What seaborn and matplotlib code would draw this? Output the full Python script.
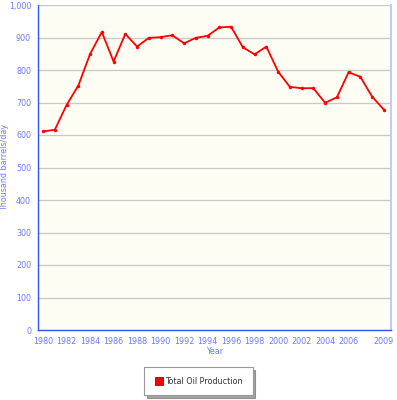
import matplotlib
matplotlib.use("Agg")
import matplotlib.pyplot as plt
import seaborn as sns
import pandas as pd
from matplotlib.lines import Line2D

years = list(range(1980, 2010))
production = [611, 616, 692, 752, 849, 917, 826, 911, 872, 899,
              901, 907, 882, 899, 905, 931, 933, 870, 848, 872,
              795, 748, 744, 744, 699, 716, 793, 779, 718, 678]
tick_years = [1980, 1982, 1984, 1986, 1988, 1990, 1992, 1994, 1996, 1998,
              2000, 2002, 2004, 2006, 2009]
y_ticks = [0, 100, 200, 300, 400, 500, 600, 700, 800, 900, 1000]

df = pd.DataFrame({"Year": years, "Production": production})

sns.set_style("white")
plt.rcParams["font.family"] = ["DejaVu Sans"]

label_blue = "#6b7bff"
fig = plt.figure(figsize=(3.97, 4.0), dpi=100)
ax = fig.add_axes([0.0957, 0.175, 0.889, 0.8125])
ax.set_facecolor("#fdfdf4")

sns.lineplot(data=df, x="Year", y="Production", ax=ax, color="#ff0000",
             linewidth=1.3, marker="o", markersize=2.5, markeredgewidth=0)

ax.set_xlim(1979.57, 2009.6)
ax.set_ylim(0, 1000)
ax.set_xticks(tick_years)
ax.set_xticklabels([str(y) for y in tick_years])
ax.set_yticks(y_ticks)
ax.set_yticklabels([f"{v:,}" for v in y_ticks])
ax.yaxis.grid(True, color="#c8c8c8", linewidth=0.9)
ax.set_axisbelow(True)

ax.tick_params(axis="both", labelsize=5.8, colors="#5a6cff", length=3, width=0.8, pad=2)
ax.tick_params(axis="both", labelcolor=label_blue)
ax.set_xlabel("Year", fontsize=5.8, color=label_blue, labelpad=1)
ax.set_ylabel("Thousand barrels/day", fontsize=5.8, color=label_blue)
ax.yaxis.set_label_coords(-0.083, 0.5)

ax.spines["left"].set_color("#3355ff")
ax.spines["bottom"].set_color("#3355ff")
ax.spines["left"].set_linewidth(1.0)
ax.spines["bottom"].set_linewidth(1.0)
ax.spines["right"].set_color("#c4caff")
ax.spines["right"].set_linewidth(1.5)
ax.spines["top"].set_visible(False)

handle = Line2D([], [], marker="s", linestyle="none", markersize=6,
                markerfacecolor="#ff0000", markeredgecolor="#550000",
                markeredgewidth=0.5)
leg = fig.legend([handle], ["Total Oil Production"], loc="center",
                 bbox_to_anchor=(0.5, 0.0475),
                 fontsize=5.8, frameon=True, fancybox=False, shadow=True,
                 borderpad=1.2, handletextpad=0.2, handlelength=1.2,
                 borderaxespad=0)
leg.get_frame().set_edgecolor("#999999")
leg.get_frame().set_linewidth(0.8)
for t in leg.get_texts():
    t.set_color("#333333")

fig.savefig("out.png", dpi=100)
